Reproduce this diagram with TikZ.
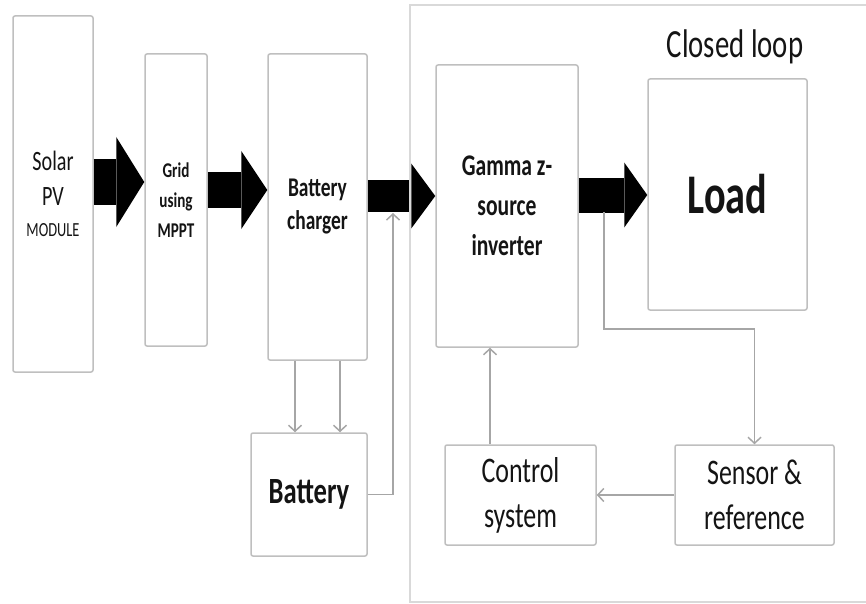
\documentclass[tikz,border=0pt]{standalone}
\usepackage{fontspec}
\setmainfont{Carlito}[FakeStretch=0.72]
\usetikzlibrary{arrows.meta,calc}
\definecolor{cBoxD}{HTML}{BFBFBF}
\definecolor{cLineD}{HTML}{A6A6A6}
\definecolor{cFrameD}{HTML}{D9D9D9}
\definecolor{cTextT}{HTML}{141414}
\newcommand{\fsz}[2]{\fontsize{#1pt}{#2pt}\selectfont}
\tikzset{
  blk/.style  = {draw=cBoxD, line width=1.5pt, rounded corners=2pt, inner sep=0pt,
                 align=center, text=cTextT},
  fat/.style n args = {3}{black, line width=#1,
                 -{Triangle[length=#2, width=#3, line width=0pt]}},
  sig/.style  = {cLineD, line width=1.5pt, -{Straight Barb[length=6pt, width=13pt]}},
  frame/.style= {cFrameD, line width=1.5pt},
}
\begin{document}
\begin{tikzpicture}[x=1pt, y=-1pt]
  \useasboundingbox (0,0) rectangle (866,604);
  % source side
  \node[blk, minimum width=80pt, minimum height=356pt, font=\fsz{28}{35}] (pv) at (53,194)
    {Solar\\PV\\[-4pt]{\fsz{20}{30}MODULE}};
  \node[blk, minimum width=62pt, minimum height=292pt, font=\bfseries\fsz{21}{30}] (grid) at (176,200)
    {Grid\\using\\MPPT};
  \node[blk, minimum width=99pt, minimum height=306pt, font=\bfseries\fsz{27}{33}] (chg) at (317.5,207)
    {Battery\\charger};
  \node[blk, minimum width=116pt, minimum height=123pt, font=\bfseries\fsz{37}{40}] (bat) at (309,494.5)
    {Battery};
  % closed loop side
  \node[blk, minimum width=142pt, minimum height=282pt, font=\bfseries\fsz{30}{40}] (gz) at (507,206)
    {Gamma z-\\source\\inverter};
  \node[blk, minimum width=159pt, minimum height=231pt, font=\bfseries\fsz{56}{60}] (load) at (727.5,194.5)
    {Load};
  \node[blk, minimum width=151pt, minimum height=100pt, font=\fsz{36}{45}] (ctrl) at (520.5,495)
    {Control\\system};
  \node[blk, minimum width=159pt, minimum height=100pt, font=\fsz{36}{45}] (sens) at (754.5,495)
    {Sensor \&\\reference};
  \node[text=cTextT, font=\fsz{40}{44}, inner sep=0pt] (cl) at (735,47) {Closed loop};

  % power path
  \draw[fat={45pt}{28pt}{90pt}] (pv.east |- 0,182) -- (grid.west |- 0,182);
  \draw[fat={36pt}{26pt}{78pt}] (grid.east |- 0,190) -- (chg.west |- 0,190);
  \draw[fat={32pt}{24pt}{65pt}] (chg.east |- 0,196) -- (gz.west |- 0,196);
  \draw[fat={35pt}{23pt}{65pt}] (gz.east |- 0,195) -- (load.west |- 0,195);

  % signal lines
  \coordinate (busin) at (393,213);
  \coordinate (tap) at (604,212);
  \draw[sig] (chg.south -| 295,0) -- (bat.north -| 295,0);
  \draw[sig] (chg.south -| 340,0) -- (bat.north -| 340,0);
  \draw[sig] (bat.east) -| (busin);
  \draw[sig] (tap) -- (tap |- 0,329) -| (sens.north);
  \draw[sig] (sens.west) -- (ctrl.east);
  \draw[sig] (ctrl.north -| 490,0) -- (gz.south -| 490,0);

  % closed loop frame, open to the right
  \draw[frame] (866,5) -- (410,5) -- (410,602) -- (866,602);
\end{tikzpicture}
\end{document}
